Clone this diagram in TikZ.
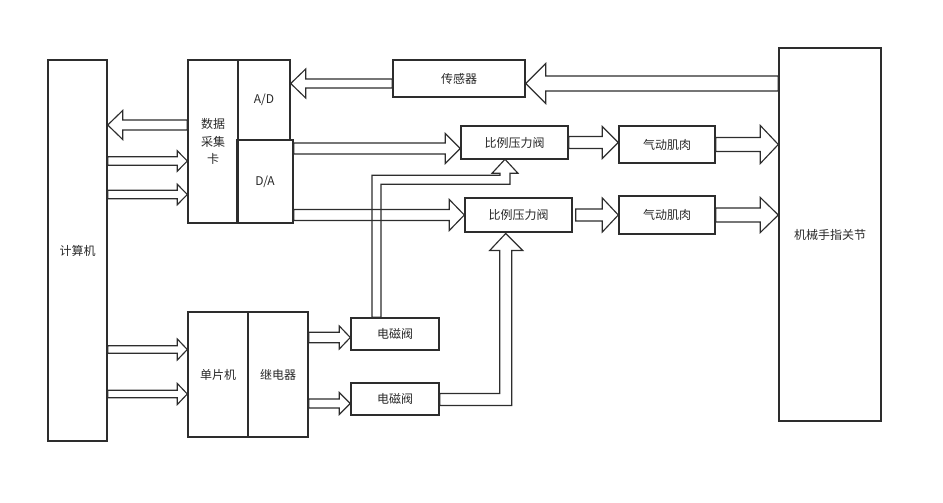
\documentclass[tikz,border=0pt]{standalone}
\usepackage{fontspec}
\setmainfont{Noto Sans CJK SC}
\usepackage{xcolor}
\usetikzlibrary{calc}
\definecolor{qline}{RGB}{45,45,45}
\definecolor{qtext}{RGB}{40,40,40}

% hollow block arrow: shaft half width, head half width, head length, from, to
\newcommand\flexarrow[5]{%
\path let \p1=#4, \p2=#5 in
  \pgfextra{\pgfmathsetmacro\tmpang{atan2(\y2-\y1,\x2-\x1)}%
            \pgfmathsetmacro\tmplen{veclen(\x2-\x1,\y2-\y1)}%
            \xdef\faang{\tmpang}\xdef\falen{\tmplen}\xdef\fax{\x1}\xdef\fay{\y1}};
\begin{scope}[shift={(\fax,\fay)}, rotate=\faang]
\draw[flex] (0,#1) -- (\falen-#3,#1) -- (\falen-#3,#2) -- (\falen,0)
  -- (\falen-#3,-#2) -- (\falen-#3,-#1) -- (0,-#1) -- cycle;
\end{scope}}

\begin{document}
\begin{tikzpicture}[x=1pt, y=-1pt,
  box/.style={draw=qline, line width=1.4pt, text=qtext, inner sep=0pt,
    font=\fontsize{12}{17.5}\selectfont, align=center},
  flex/.style={draw=qline, line width=1.15pt}]

\useasboundingbox (0,0) rectangle (943,503);

% blocks
\node[box, minimum width=59, minimum height=381] (pc) at (77.5,250.5) {计算机};
\node[box, minimum width=50, minimum height=163] (card) at (213,141.5) {数据\\采集\\卡};
\node[box, minimum width=52, minimum height=80] (ad) at (264,100) {A/D};
\node[box, minimum width=56, minimum height=83] (da) at (265,181.5) {D/A};
\node[box, minimum width=132, minimum height=37] (sensor) at (459,78.5) {传感器};
\node[box, minimum width=107, minimum height=33] (pv1) at (514.5,142.5) {比例压力阀};
\node[box, minimum width=107, minimum height=34] (pv2) at (518.5,215) {比例压力阀};
\node[box, minimum width=96, minimum height=37] (m1) at (667,144.5) {气动肌肉};
\node[box, minimum width=96, minimum height=38] (m2) at (667,215) {气动肌肉};
\node[box, minimum width=102, minimum height=373] (finger) at (830,234.5) {机械手指关节};
\node[box, minimum width=60, minimum height=125] (scm) at (218,374.5) {单片机};
\node[box, minimum width=60, minimum height=125] (relay) at (278,374.5) {继电器};
\node[box, minimum width=88, minimum height=32] (sol1) at (395,334) {电磁阀};
\node[box, minimum width=88, minimum height=32] (sol2) at (395,399) {电磁阀};

% feedback path
\flexarrow{7.5}{20}{20}{($(finger.west |- sensor.east)+(0,5)$)}{($(sensor.east)+(0,5)$)}
\flexarrow{4.5}{14.5}{15}{($(sensor.west)+(0,5)$)}{($(ad.east |- sensor.west)+(0,5)$)}
\flexarrow{5}{14.5}{15}{($(card.west)+(0,-16.5)$)}{($(pc.east |- card.west)+(0,-16.5)$)}

% computer outputs
\foreach \dy in {19.5,53}{
\flexarrow{4.2}{10.2}{10}{($(pc.east |- card.west)+(0,\dy)$)}{($(card.west)+(0,\dy)$)}
}
\foreach \dy in {-25,19.5}{
\flexarrow{3.8}{10.5}{10}{($(pc.east |- scm.west)+(0,\dy)$)}{($(scm.west)+(0,\dy)$)}
}

% D/A to valves
\flexarrow{5.5}{15}{15}{($(da.east |- pv1.west)+(0,6)$)}{($(pv1.west)+(0,6)$)}
\flexarrow{5.5}{15.5}{15}{(da.east |- pv2.west)}{(pv2.west)}

% valves to muscles to finger
\flexarrow{6}{16}{16}{(pv1.east)}{(m1.west |- pv1.east)}
\flexarrow{6}{17}{16}{([xshift=3pt]pv2.east)}{(m2.west |- pv2.east)}
\flexarrow{7}{19}{18}{(m1.east)}{(finger.west |- m1.east)}
\flexarrow{7}{17.5}{18}{(m2.east)}{(finger.west |- m2.east)}

% relay to solenoid valves
\flexarrow{5.2}{11.5}{11}{($(relay.east |- sol1.west)+(0,3.5)$)}{($(sol1.west)+(0,3.5)$)}
\flexarrow{4.5}{11}{11}{($(relay.east |- sol2.west)+(0,4.5)$)}{($(sol2.west)+(0,4.5)$)}

% solenoid valves to proportional valves
\draw[flex] ([xshift=-23pt]sol1.north) -- ++(0,-142) -- ++(128,0) -- ++(0,-2)
  -- ++(-8,0) -- ++(13,-14) -- ++(13,14) -- ++(-8,0) -- ++(0,11)
  -- ++(-129,0) -- ++(0,133) -- cycle;
\draw[flex] ([yshift=5.5pt]sol2.east) -- ++(60,0) -- ++(0,-143) -- ++(-10,0)
  -- ++(16,-17) -- ++(17,17) -- ++(-11,0) -- ++(0,155) -- ++(-72,0) -- cycle;

\end{tikzpicture}
\end{document}
